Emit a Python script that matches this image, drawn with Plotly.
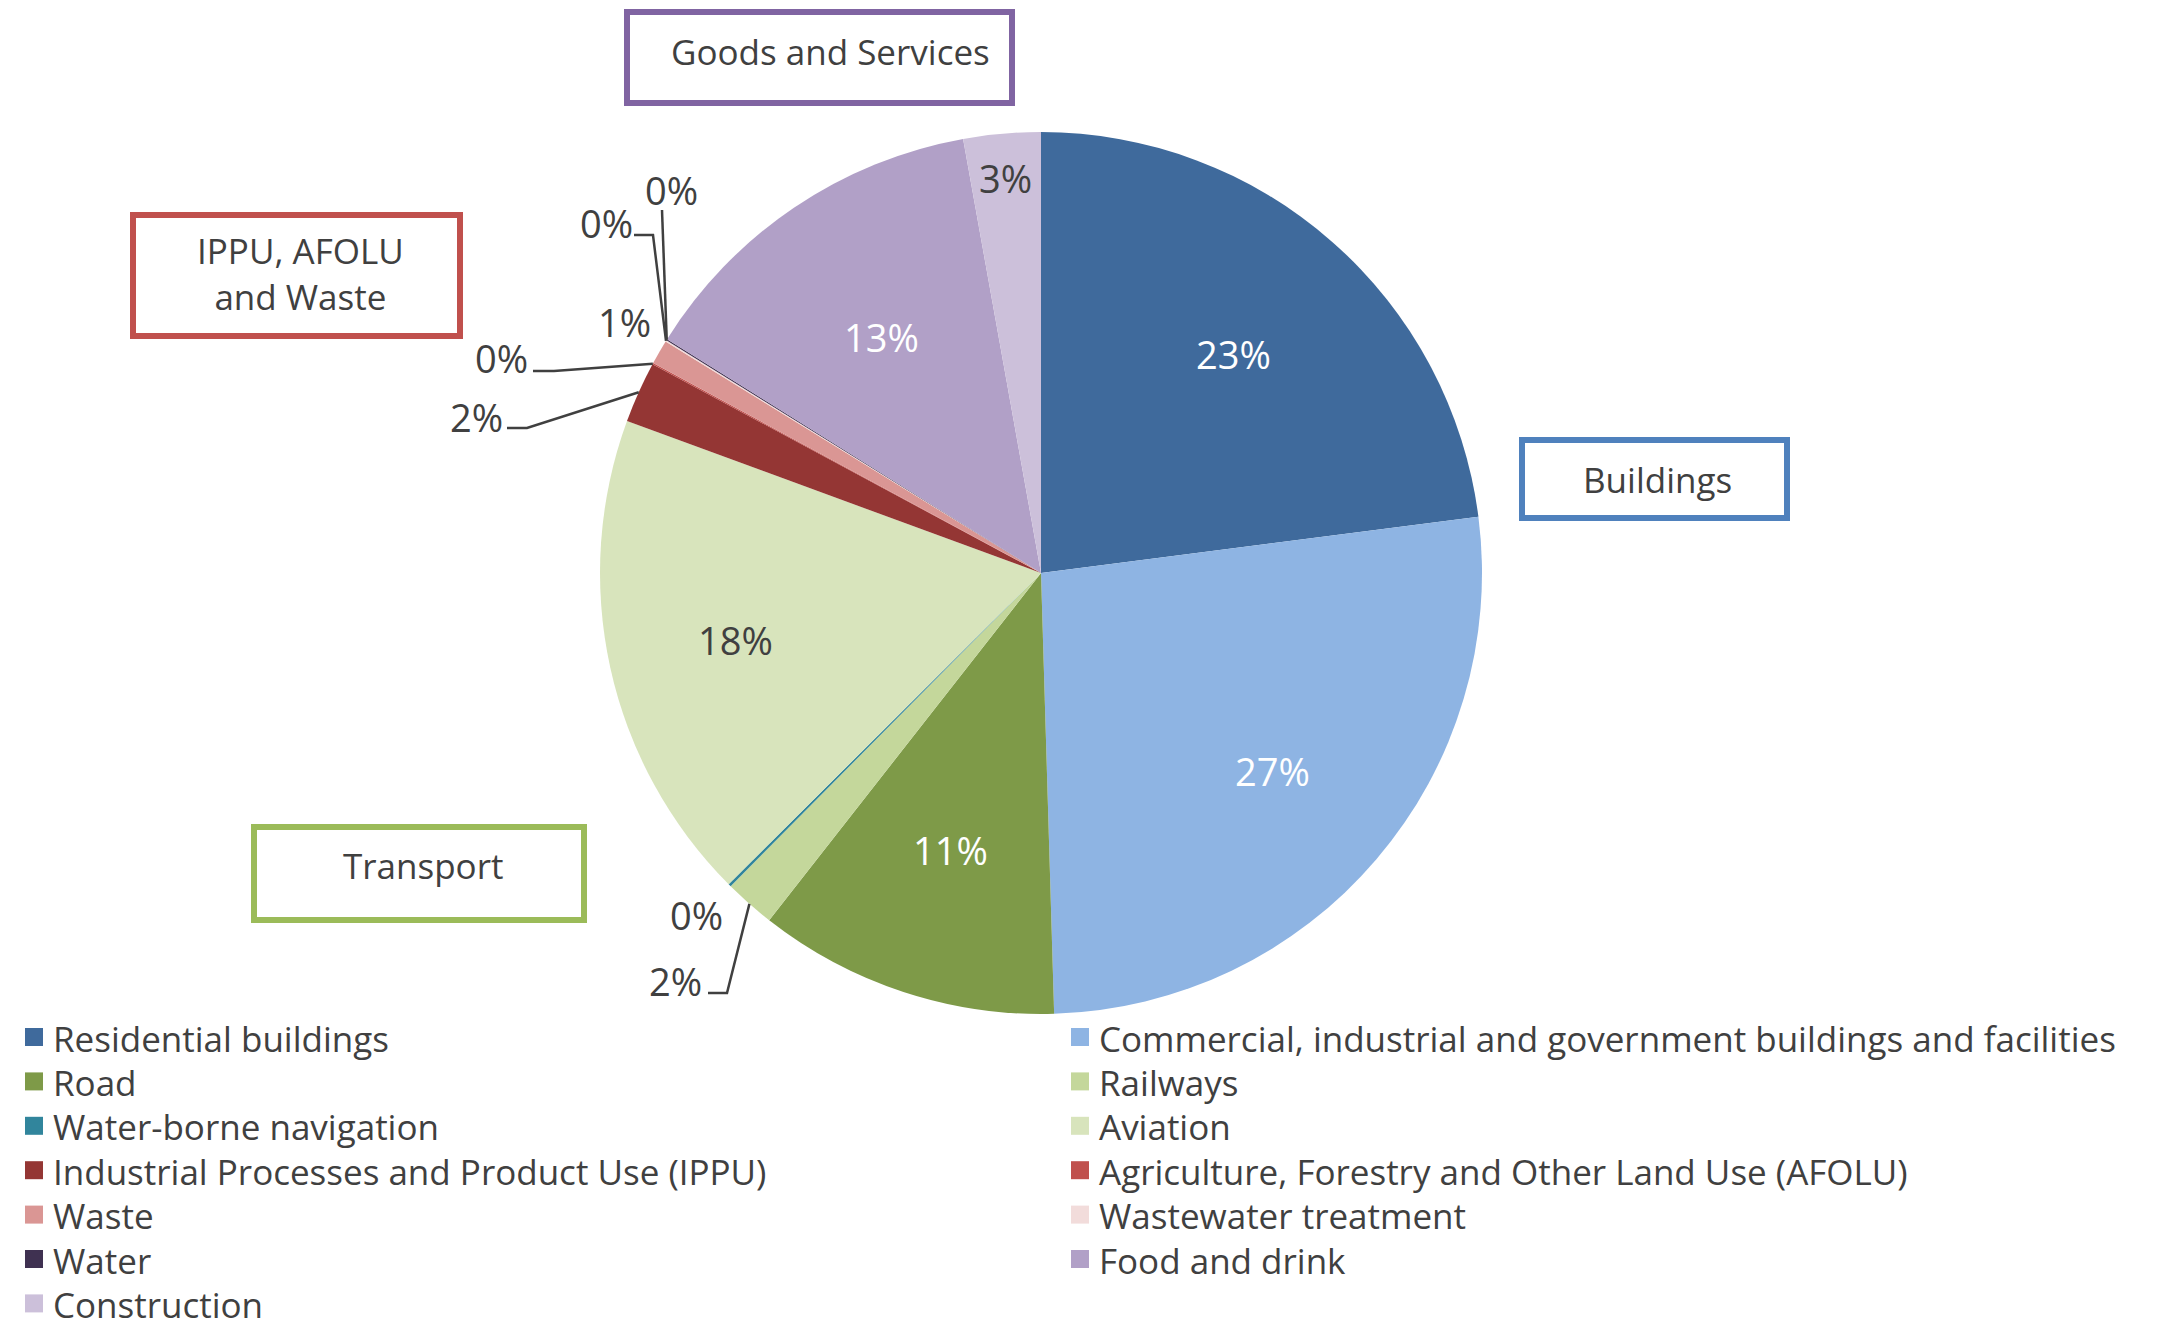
import math
import plotly.graph_objects as go

# ---------------- data ----------------
categories = [
    "Residential buildings",
    "Commercial, industrial and government buildings and facilities",
    "Road",
    "Railways",
    "Water-borne navigation",
    "Aviation",
    "Industrial Processes and Product Use (IPPU)",
    "Agriculture, Forestry and Other Land Use (AFOLU)",
    "Waste",
    "Wastewater treatment",
    "Water",
    "Food and drink",
    "Construction",
]
values = [23.0, 26.6, 11.06, 1.86, 0.1, 18.1, 2.25, 0.05, 0.9, 0.05, 0.05, 13.3, 2.83]
colors = ["#3F6A9C", "#8EB4E3", "#7E9A48", "#C4D79B", "#31859C", "#D8E4BC",
          "#943634", "#C0504D", "#DA9694", "#F2DCDB", "#3F3151", "#B1A0C7", "#CCC0DA"]

group_boxes = ["Goods and Services", "IPPU, AFOLU<br>and Waste", "Buildings", "Transport"]
group_colors = ["#8064A2", "#C0504D", "#4F81BD", "#9BBB59"]

# ---------------- layout geometry ----------------
W, H = 2170, 1326
CX, CY, R = 1041, 573, 441
TXT = "#404040"
FONT = "Open Sans"


def px(x):
    return x / W


def py(y):
    return 1 - y / H


total = sum(values)
cum = 0
mids = []
for v in values:
    a0 = cum / total * 360
    cum += v
    a1 = cum / total * 360
    mids.append((a0 + a1) / 2)


def polar(angle, rf):
    a = math.radians(angle)
    return CX + rf * R * math.sin(a), CY - rf * R * math.cos(a)


labels_txt = [f"{round(v / total * 100):.0f}%" for v in values]

# label placement: ("in", radius factor, color) or ("out", text center px, leader elbow points)
placement = [
    ("in", 0.66, "white"),
    ("in", 0.69, "white"),
    ("in", 0.66, "white"),
    ("out", (675, 981), [(727, 993), (708, 993)]),
    ("out", (696, 915), []),
    ("in", 0.71, TXT),
    ("out", (477, 417), [(527, 428), (507, 428)]),
    ("out", (501, 358), [(554, 371), (533, 371)]),
    ("out", (624, 322), []),
    ("out", (606, 223), [(653, 235), (634, 235)]),
    ("out", (671, 190), [(662, 210)]),
    ("in", 0.645, "white"),
    ("in", 0.9, TXT),
]

fig = go.Figure()
fig.add_trace(go.Pie(
    labels=categories,
    values=values,
    sort=False,
    direction="clockwise",
    rotation=0,
    marker=dict(colors=colors, line=dict(width=0)),
    textinfo="none",
    domain=dict(x=[px(CX - R), px(CX + R)], y=[py(CY + R), py(CY - R)]),
    showlegend=False,
))

annotations = []
shapes = []
for i, pl in enumerate(placement):
    if pl[0] == "in":
        x, y = polar(mids[i], pl[1])
        color = pl[2]
    else:
        x, y = pl[1]
        color = TXT
        if pl[2]:
            pts = [polar(mids[i], 1.0)] + pl[2]
            path = "M " + " L ".join(f"{px(a):.5f},{py(b):.5f}" for a, b in pts)
            shapes.append(dict(type="path", xref="paper", yref="paper", path=path,
                               line=dict(color=TXT, width=2.5)))
    annotations.append(dict(x=px(x), y=py(y), xref="paper", yref="paper", text=labels_txt[i],
                            xanchor="center", yanchor="middle", showarrow=False,
                            font=dict(family=FONT, size=38, color=color)))

# group boxes (px boxes) and their text
box_rects = [(627, 12, 1012, 103), (133, 215, 460, 336), (1522, 440, 1787, 518), (254, 827, 584, 920)]
box_text_pos = [(830, 52), (300, 274), (1657, 479), (423, 865)]
for name, col, (x0, y0, x1, y1), (tx, ty) in zip(group_boxes, group_colors, box_rects, box_text_pos):
    shapes.append(dict(type="rect", xref="paper", yref="paper", x0=px(x0), x1=px(x1),
                       y0=py(y1), y1=py(y0), line=dict(color=col, width=6), fillcolor="white",
                       layer="below"))
    annotations.append(dict(x=px(tx), y=py(ty), xref="paper", yref="paper", text=name,
                            xanchor="center", yanchor="middle", align="center", showarrow=False,
                            font=dict(family=FONT, size=35, color=TXT)))

# legend: two columns, rows filled left-to-right, swatch + label
LEG_X = [25, 1071]      # swatch left edge per column (px)
LEG_Y0, LEG_DY = 1037, 44.4
SW = 18
for i, (name, col) in enumerate(zip(categories, colors)):
    c, r = i % 2, i // 2
    x0 = LEG_X[c]
    yc = LEG_Y0 + r * LEG_DY
    shapes.append(dict(type="rect", xref="paper", yref="paper",
                       x0=px(x0), x1=px(x0 + SW), y0=py(yc + SW / 2), y1=py(yc - SW / 2),
                       line=dict(width=0), fillcolor=col))
    annotations.append(dict(x=px(x0 + SW + 8), y=py(yc + 1), xref="paper", yref="paper", text=name,
                            xanchor="left", yanchor="middle", showarrow=False,
                            font=dict(family=FONT, size=35, color=TXT)))

fig.update_layout(
    width=W, height=H,
    margin=dict(l=0, r=0, t=0, b=0, autoexpand=False),
    paper_bgcolor="white", plot_bgcolor="white",
    font=dict(family=FONT, color=TXT),
    shapes=shapes,
    annotations=annotations,
    showlegend=False,
)

fig.write_html("out.html")
